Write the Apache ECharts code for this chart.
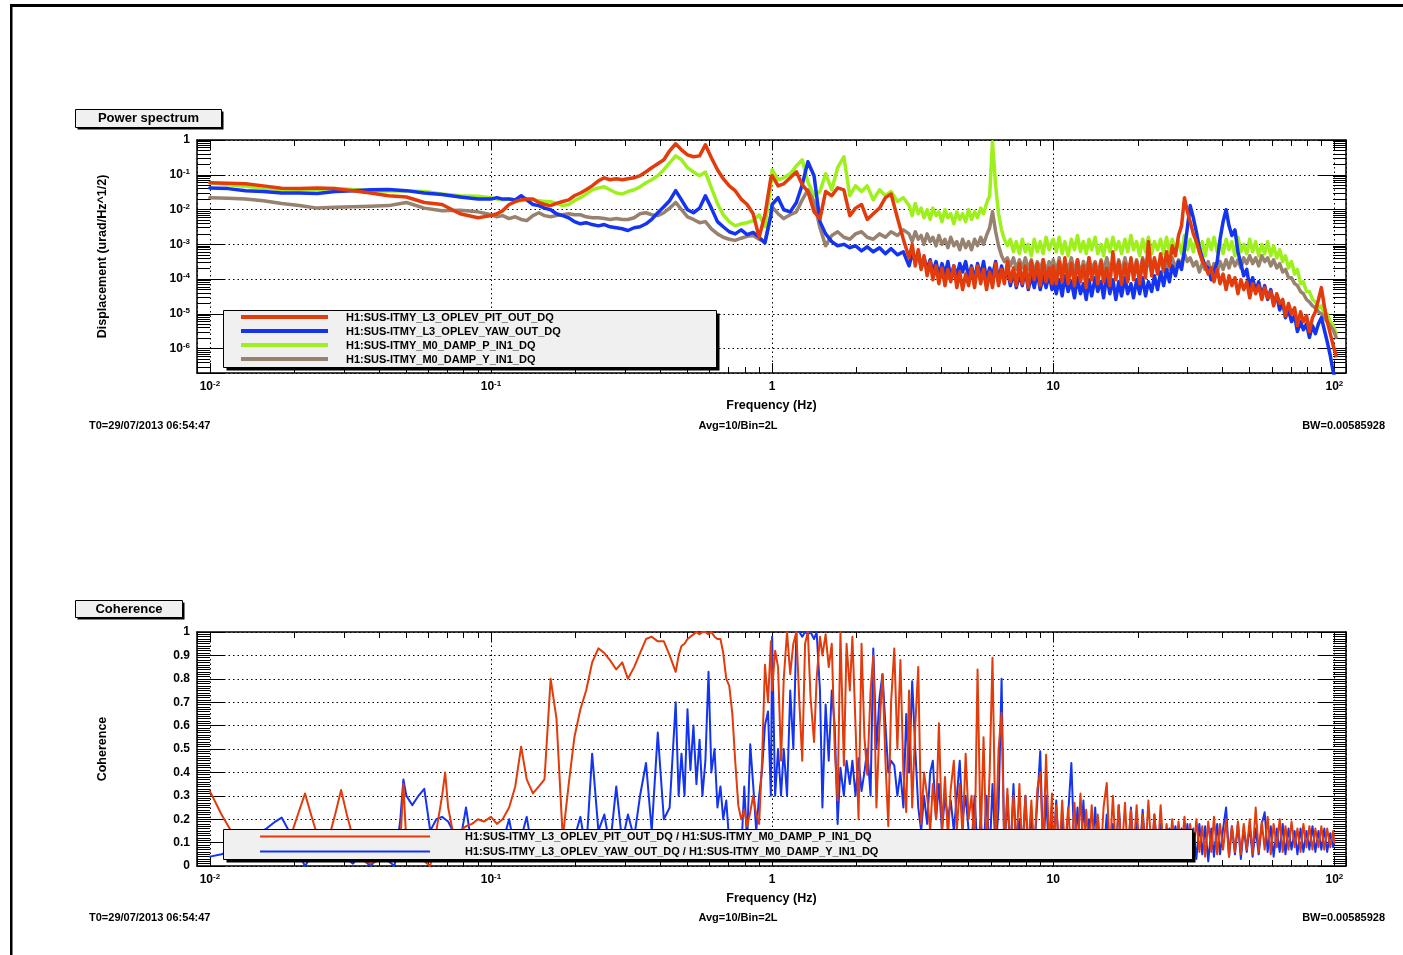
<!DOCTYPE html>
<html>
<head>
<meta charset="utf-8">
<script src="https://cdn.jsdelivr.net/npm/echarts@6/dist/echarts.min.js"></script>
<style>
  html, body { margin: 0; padding: 0; background: #fff; }
  #chart { width: 1403px; height: 955px; }
</style>
</head>
<body>
<div id="chart"></div>
<script>
const FONT = '"Liberation Sans", Arial, Helvetica, sans-serif';

// ---- Power spectrum: frequency grid (Hz) shared by the four channels ----
const psFreq = [
  0.01, 0.0116, 0.0134, 0.0155, 0.018, 0.0208, 0.0241, 0.0279, 0.0323, 0.0373, 0.0432, 0.05, 0.0579, 0.067, 0.0776, 0.0899,
  0.1, 0.105, 0.11, 0.116, 0.122, 0.128, 0.134, 0.141, 0.148, 0.155, 0.163, 0.171, 0.18, 0.189, 0.198, 0.208, 0.218, 0.229, 0.241, 0.253,
  0.265, 0.279, 0.293, 0.307, 0.323, 0.339, 0.356, 0.373, 0.392, 0.412, 0.432, 0.454, 0.476, 0.5, 0.525, 0.552, 0.579, 0.608, 0.639, 0.67,
  0.704, 0.739, 0.776, 0.815, 0.856, 0.899, 0.943, 0.99,
  1, 1.05, 1.1, 1.16, 1.22, 1.28, 1.34, 1.41, 1.48, 1.55, 1.63, 1.71, 1.8, 1.89, 1.98, 2.08, 2.18, 2.29, 2.41, 2.53, 2.65, 2.79, 2.93,
  3.07, 3.15, 3.23, 3.31, 3.39, 3.47, 3.56, 3.65, 3.73, 3.83, 3.92, 4.02, 4.12, 4.22, 4.32, 4.43, 4.54, 4.65, 4.76, 4.88,
  5, 5.12, 5.25, 5.38, 5.52, 5.65, 5.79, 5.94, 6.08, 6.24, 6.39, 6.55, 6.7, 6.87, 7.04, 7.22, 7.39, 7.58, 7.76, 7.96,
  8.15, 8.36, 8.56, 8.78, 8.99, 9.21, 9.43, 9.67, 9.9,
  10, 10.25, 10.5, 10.76, 11, 11.3, 11.6, 11.9, 12.2, 12.5, 12.8, 13.1, 13.4, 13.7, 14.1, 14.4, 14.8, 15.1, 15.5, 15.9,
  16.3, 16.7, 17.1, 17.5, 18, 18.4, 18.9, 19.3, 19.8, 20.3, 20.8, 21.3, 21.8, 22.4, 22.9, 23.5, 24.1, 24.7, 25.3, 25.9,
  26.5, 27.2, 27.9, 28.6, 29.3, 30, 30.7, 31.5, 32.3, 33.1, 33.9, 34.7, 35.6, 36.5, 37.3, 38.3, 39.2, 40.2, 41.2, 42.2,
  43.2, 44.3, 45.4, 46.5, 47.6, 48.8, 50, 51.2, 52.5, 53.8, 55.2, 56.5, 57.9, 59.4, 60.8, 62.4, 63.9, 65.5, 67, 68.7,
  70.4, 72.2, 73.9, 75.8, 77.6, 79.6, 81.5, 83.6, 85.6, 87.8, 89.9, 92.1, 94.3, 96.7, 99, 101.5
];

// Displacement spectral density (urad/Hz^1/2)
const psPitOut = [
  0.059, 0.057, 0.055, 0.048, 0.041, 0.040, 0.042, 0.040, 0.035, 0.030, 0.025, 0.023, 0.016, 0.014, 0.0076, 0.0058,
  0.0067, 0.0076, 0.0092, 0.014, 0.017, 0.019, 0.020, 0.020, 0.016, 0.014, 0.013, 0.015, 0.017, 0.019, 0.025, 0.030,
  0.037, 0.048, 0.067, 0.082, 0.072, 0.077, 0.072, 0.077, 0.082, 0.094, 0.122, 0.159, 0.207, 0.27, 0.49, 0.78,
  0.52, 0.375, 0.33, 0.35, 0.73, 0.31, 0.14, 0.077, 0.048, 0.035, 0.020, 0.014, 0.0076, 0.0016, 0.0071, 0.082,
  0.094, 0.048, 0.055, 0.082, 0.122, 0.052, 0.033, 0.0086, 0.0055, 0.033, 0.025, 0.042, 0.037, 0.0067, 0.011, 0.014,
  0.0052, 0.0076, 0.011, 0.022, 0.028, 0.0058, 0.0014,
  4.1e-4, 1.0e-3, 2.4e-4, 7.0e-4, 1.9e-4, 4.7e-4, 1.25e-4, 3.2e-4, 9.6e-5, 2.4e-4, 7.4e-5, 2.1e-4, 6.5e-5, 1.9e-4, 8.4e-5,
  2.4e-4, 5.7e-5, 1.6e-4, 5.0e-5, 1.4e-4, 6.5e-5, 2.1e-4, 5.7e-5, 2.4e-4, 7.4e-5, 1.9e-4, 5.0e-5, 1.6e-4, 5.7e-5, 2.8e-4,
  6.5e-5, 1.9e-4, 7.4e-5, 3.2e-4, 8.4e-5, 2.1e-4, 6.5e-5, 2.8e-4, 7.4e-5, 2.4e-4, 5.7e-5, 3.2e-4, 9.6e-5, 2.8e-4, 6.5e-5,
  3.6e-4, 8.4e-5, 2.1e-4, 7.4e-5,
  2.4e-4, 7.4e-5, 3.2e-4, 8.4e-5, 4.1e-4, 7.4e-5, 2.8e-4, 6.5e-5, 3.6e-4, 8.4e-5, 2.4e-4, 5.7e-5, 4.1e-4, 9.6e-5, 2.8e-4,
  7.4e-5, 3.2e-4, 8.4e-5, 2.1e-4, 6.5e-5, 6.1e-4, 9.6e-5, 3.2e-4, 7.4e-5, 2.8e-4, 8.4e-5, 4.1e-4, 9.6e-5, 3.2e-4, 7.4e-5,
  3.6e-4, 1.1e-4, 1.2e-3, 1.25e-4, 4.1e-4, 1.4e-4, 5.4e-4, 1.9e-4,
  6.1e-4, 2.4e-4, 9.1e-4, 4.7e-4, 1.8e-3, 3.4e-3, 0.022,
  0.0086, 0.0045, 0.0020, 0.0012, 6.1e-4, 3.2e-4, 2.4e-4, 1.4e-4, 2.1e-4, 8.4e-5, 1.9e-4, 7.4e-5, 1.4e-4, 5.0e-5, 1.25e-4,
  6.5e-5, 1.1e-4, 3.8e-5, 9.6e-5, 5.0e-5, 8.4e-5, 2.9e-5, 7.4e-5, 3.8e-5, 6.5e-5, 2.6e-5, 5.7e-5, 2.9e-5, 4.4e-5, 1.7e-5,
  3.8e-5, 2.0e-5, 2.6e-5, 8.9e-6, 2.0e-5, 1.0e-5, 1.5e-5, 4.6e-6, 1.15e-5, 6.0e-6, 8.9e-6, 3.1e-6, 7.8e-6, 1.15e-5, 2.6e-5,
  5.7e-5, 1.7e-5, 6.0e-6, 2.7e-6, 1.25e-6, 6.3e-7
];
const psYawOut = [
  0.042, 0.040, 0.035, 0.033, 0.030, 0.030, 0.029, 0.033, 0.035, 0.037, 0.038, 0.035, 0.030, 0.027, 0.023, 0.020,
  0.020, 0.022, 0.020, 0.020, 0.019, 0.025, 0.019, 0.014, 0.013, 0.011, 0.0099, 0.0076, 0.0067, 0.0058, 0.0045, 0.0039,
  0.0042, 0.0037, 0.0034, 0.0037, 0.0032, 0.0030, 0.0028, 0.0025, 0.0030, 0.0032, 0.0039, 0.0052, 0.0081, 0.012, 0.018, 0.035,
  0.019, 0.0099, 0.0081, 0.011, 0.025, 0.011, 0.0045, 0.0032, 0.0023, 0.0020, 0.0026, 0.0019, 0.0022, 0.0016, 0.0011, 0.0067,
  0.014, 0.022, 0.0099, 0.0086, 0.016, 0.052, 0.236, 0.094, 0.0045, 0.0020, 0.0012, 9.1e-4, 1.0e-3, 8.0e-4, 9.1e-4, 6.5e-4,
  8.5e-4, 6.1e-4, 8.0e-4, 5.4e-4, 7.5e-4, 5.0e-4, 6.1e-4,
  2.4e-4, 5.4e-4, 3.2e-4, 6.1e-4, 2.1e-4, 4.1e-4, 1.9e-4, 3.6e-4, 1.6e-4, 3.2e-4, 1.25e-4, 2.8e-4, 1.4e-4, 3.2e-4, 1.1e-4,
  2.4e-4, 1.25e-4, 2.8e-4, 1.6e-4, 3.2e-4, 1.1e-4, 2.4e-4, 9.6e-5, 2.8e-4, 1.25e-4, 3.2e-4, 9.6e-5, 2.1e-4, 1.25e-4, 3.2e-4,
  8.4e-5, 2.4e-4, 9.6e-5, 1.9e-4, 6.5e-5, 1.6e-4, 5.7e-5, 1.4e-4, 6.5e-5, 1.9e-4, 5.0e-5, 1.25e-4, 5.7e-5, 1.6e-4, 5.0e-5,
  1.25e-4, 5.7e-5, 1.4e-4, 5.0e-5,
  1.1e-4, 3.8e-5, 9.6e-5, 3.3e-5, 1.25e-4, 4.4e-5, 8.4e-5, 2.9e-5, 1.1e-4, 3.8e-5, 7.4e-5, 2.6e-5, 9.6e-5, 3.3e-5, 1.1e-4,
  4.4e-5, 8.4e-5, 2.9e-5, 1.25e-4, 3.8e-5, 9.6e-5, 2.6e-5, 8.4e-5, 3.3e-5, 1.1e-4, 3.8e-5, 7.4e-5, 2.9e-5, 9.6e-5, 3.8e-5,
  1.1e-4, 3.3e-5, 8.4e-5, 4.4e-5, 1.25e-4, 5.0e-5, 1.6e-4, 6.5e-5,
  1.9e-4, 8.4e-5, 2.4e-4, 1.25e-4, 3.2e-4, 1.9e-4, 7.0e-4, 3.0e-3, 0.013, 0.0058, 0.0023, 8.0e-4, 4.1e-4, 2.4e-4, 2.1e-4,
  9.6e-5, 1.6e-4, 3.2e-4, 0.0014, 0.0045, 0.0099, 0.0034, 0.0018, 0.0026, 6.1e-4, 2.8e-4, 1.25e-4, 1.9e-4, 5.7e-5, 1.1e-4,
  4.4e-5, 8.4e-5, 3.3e-5, 6.5e-5, 2.6e-5, 5.0e-5, 2.0e-5, 3.3e-5, 1.3e-5, 2.2e-5, 7.8e-6, 1.3e-5, 6.0e-6, 8.9e-6, 3.1e-6,
  6.0e-6, 3.5e-6, 5.2e-6, 2.1e-6, 4.6e-6, 2.7e-6, 5.2e-6, 7.8e-6, 3.5e-6, 1.6e-6, 6.3e-7, 2.2e-7, 1.0e-7
];
const psDampP = [
  0.059, 0.052, 0.047, 0.042, 0.037, 0.037, 0.038, 0.040, 0.038, 0.035, 0.034, 0.034, 0.033, 0.028, 0.025, 0.024,
  0.022, 0.020, 0.019, 0.020, 0.019, 0.018, 0.019, 0.019, 0.018, 0.017, 0.017, 0.015, 0.013, 0.014, 0.018, 0.022,
  0.028, 0.037, 0.042, 0.045, 0.037, 0.030, 0.028, 0.033, 0.037, 0.045, 0.059, 0.072, 0.094, 0.14, 0.22, 0.35,
  0.27, 0.16, 0.12, 0.094, 0.12, 0.042, 0.015, 0.0071, 0.0045, 0.0034, 0.0039, 0.0042, 0.0048, 0.0071, 0.0032, 0.052,
  0.14, 0.072, 0.082, 0.107, 0.18, 0.27, 0.063, 0.025, 0.033, 0.107, 0.037, 0.16, 0.33, 0.025, 0.048, 0.033,
  0.048, 0.019, 0.037, 0.025, 0.033, 0.017, 0.022,
  0.013, 0.0067, 0.015, 0.0076, 0.011, 0.0058, 0.0099, 0.0052, 0.011, 0.0067, 0.0086, 0.0045, 0.0099, 0.0058, 0.0076,
  0.0039, 0.0086, 0.0052, 0.0076, 0.0045, 0.0099, 0.0052, 0.0086, 0.0058, 0.011, 0.0076, 0.015, 0.025, 0.89, 0.048,
  0.0076, 0.0026, 0.0014, 9.1e-4, 0.0014, 6.1e-4, 0.0012, 5.4e-4, 0.0014, 6.1e-4, 1.0e-3, 4.7e-4, 0.0014, 6.1e-4, 0.0012,
  5.4e-4, 0.0016, 7.0e-4, 0.0012,
  0.0014, 6.1e-4, 0.0016, 5.4e-4, 0.0012, 4.7e-4, 0.0014, 7.0e-4, 0.0018, 6.1e-4,
  0.0012, 5.4e-4, 0.0014, 7.0e-4, 0.0016, 5.4e-4, 1.0e-3, 4.7e-4, 0.0014, 6.1e-4,
  0.0016, 7.0e-4, 0.0012, 5.4e-4, 0.0014, 6.1e-4, 0.0018, 7.0e-4, 0.0012, 4.7e-4,
  0.0014, 6.1e-4, 0.0016, 5.4e-4, 0.0012, 7.0e-4, 0.0014, 5.4e-4, 0.0016, 6.1e-4,
  0.0014, 7.0e-4, 0.0012, 5.4e-4, 0.0018, 7.0e-4, 0.0014, 6.1e-4, 0.0016, 5.4e-4,
  0.0012, 4.7e-4, 0.0014, 7.0e-4, 0.0016, 6.1e-4, 0.0012, 5.4e-4, 0.0014, 7.0e-4,
  0.0012, 4.7e-4, 0.0016, 6.1e-4, 1.0e-3, 5.4e-4, 0.0014, 6.1e-4, 0.0012, 4.7e-4,
  1.0e-3, 5.4e-4, 0.0012, 4.7e-4, 9.1e-4, 4.1e-4,
  7.0e-4, 3.2e-4, 4.7e-4, 2.1e-4, 3.2e-4, 1.4e-4, 1.9e-4, 7.4e-5, 8.4e-5, 4.4e-5,
  4.4e-5, 2.6e-5, 2.2e-5, 1.5e-5, 1.7e-5, 1.0e-5, 1.0e-5, 6.0e-6, 4.6e-6, 2.7e-6
];
const psDampY = [
  0.022, 0.021, 0.020, 0.018, 0.015, 0.013, 0.011, 0.0116, 0.012, 0.0125, 0.013, 0.016, 0.011, 0.0092, 0.0095, 0.0086,
  0.0071, 0.0062, 0.0067, 0.0055, 0.0062, 0.0052, 0.0048, 0.0067, 0.0081, 0.0067, 0.0062, 0.0067, 0.0071, 0.0076, 0.0071, 0.0071,
  0.0062, 0.0058, 0.0058, 0.0055, 0.0052, 0.0055, 0.0052, 0.0052, 0.0058, 0.0076, 0.0081, 0.0071, 0.0067, 0.0081, 0.011, 0.016,
  0.0099, 0.0062, 0.0052, 0.0042, 0.0045, 0.0028, 0.0020, 0.0016, 0.0014, 0.0013, 0.0015, 0.0017, 0.0018, 0.0014, 0.0012, 0.0071,
  0.012, 0.0076, 0.0055, 0.0071, 0.0086, 0.019, 0.037, 0.017, 0.0030, 9.1e-4, 0.0018, 0.0023, 0.0016, 0.0014, 0.0020, 0.0023,
  0.0016, 0.0014, 0.0020, 0.0016, 0.0023, 0.0018, 0.0026,
  0.0020, 0.0012, 0.0023, 0.0014, 0.0018, 1.0e-3, 0.0020, 0.0012, 0.0016, 9.1e-4, 0.0018, 1.0e-3, 0.0014, 8.0e-4, 0.0016,
  9.1e-4, 0.0012, 7.0e-4, 0.0014, 8.0e-4, 0.0012, 7.0e-4, 0.0014, 9.1e-4, 0.0016, 1.0e-3, 0.0018, 0.0030, 0.0086, 0.0023,
  9.1e-4, 4.7e-4, 3.2e-4, 4.1e-4, 2.4e-4, 4.1e-4, 1.9e-4, 3.6e-4, 2.1e-4, 4.1e-4, 1.9e-4, 3.6e-4, 1.6e-4, 3.2e-4, 1.9e-4,
  3.6e-4, 1.6e-4, 3.2e-4, 1.9e-4,
  3.6e-4, 1.6e-4, 4.1e-4, 1.4e-4, 3.2e-4, 1.9e-4, 4.1e-4, 1.6e-4, 3.6e-4, 1.4e-4,
  3.2e-4, 1.6e-4, 4.1e-4, 1.9e-4, 3.2e-4, 1.4e-4, 3.6e-4, 1.6e-4, 4.1e-4, 1.9e-4,
  3.2e-4, 1.4e-4, 3.6e-4, 1.6e-4, 4.1e-4, 1.9e-4, 3.2e-4, 1.6e-4, 3.6e-4, 1.4e-4,
  4.1e-4, 1.9e-4, 3.2e-4, 1.6e-4, 3.6e-4, 1.9e-4, 4.1e-4, 1.6e-4, 3.2e-4, 1.9e-4,
  4.1e-4, 2.1e-4, 3.6e-4, 2.8e-4, 5.4e-4, 3.2e-4, 4.1e-4, 2.4e-4, 3.2e-4, 1.6e-4,
  2.8e-4, 1.9e-4, 3.2e-4, 1.4e-4, 2.8e-4, 1.6e-4, 3.2e-4, 1.9e-4, 3.6e-4, 2.1e-4,
  4.1e-4, 2.4e-4, 3.6e-4, 2.1e-4, 4.1e-4, 2.8e-4, 4.7e-4, 2.8e-4, 4.1e-4, 2.4e-4,
  4.7e-4, 3.2e-4, 4.1e-4, 2.4e-4, 3.6e-4, 2.1e-4,
  2.8e-4, 1.6e-4, 1.9e-4, 1.1e-4, 1.1e-4, 7.4e-5, 6.5e-5, 4.4e-5, 3.8e-5, 2.6e-5,
  2.2e-5, 1.7e-5, 1.5e-5, 1.15e-5, 1.0e-5, 7.8e-6, 6.0e-6, 4.6e-6, 3.5e-6, 2.1e-6
];

// ---- Coherence: frequency grid (Hz) shared by both channel pairs ----
const cohFreq = [
  0.01, 0.011, 0.0119, 0.0128, 0.0137, 0.0148, 0.0159, 0.0171, 0.018, 0.0193, 0.0203, 0.0218, 0.0229, 0.0241, 0.0253,
  0.0265, 0.0279, 0.0293, 0.0307, 0.0323, 0.0339, 0.0356, 0.0373, 0.0392, 0.0412, 0.0432, 0.0454, 0.0476, 0.0488, 0.05,
  0.0525, 0.0552, 0.0579, 0.0608, 0.0639, 0.067, 0.0687, 0.0704, 0.0739, 0.0776, 0.0815, 0.0856, 0.0899, 0.0943,
  0.1, 0.105, 0.11, 0.116, 0.122, 0.128, 0.134, 0.141, 0.148, 0.155, 0.163, 0.171, 0.18, 0.189, 0.198, 0.208,
  0.218, 0.229, 0.241, 0.253, 0.265, 0.279, 0.293, 0.307, 0.323, 0.339, 0.356, 0.373, 0.392, 0.412, 0.432,
  0.454, 0.465, 0.476, 0.488, 0.5, 0.512, 0.525, 0.538, 0.552, 0.565, 0.579, 0.594, 0.608, 0.624, 0.639, 0.655,
  0.67, 0.687, 0.704, 0.722, 0.739, 0.758, 0.776, 0.796, 0.815, 0.836, 0.856, 0.878, 0.899, 0.921, 0.943, 0.967, 0.99,
  1, 1.025, 1.05, 1.076, 1.1, 1.13, 1.16, 1.19, 1.22, 1.25, 1.28, 1.31, 1.34, 1.37, 1.41, 1.44, 1.48, 1.51, 1.55, 1.59,
  1.63, 1.67, 1.71, 1.75, 1.8, 1.84, 1.89, 1.93, 1.98, 2.03, 2.08, 2.13, 2.18, 2.24, 2.29, 2.35, 2.41, 2.47, 2.53, 2.59,
  2.65, 2.72, 2.79, 2.86, 2.93, 3, 3.07, 3.15, 3.23, 3.31, 3.39, 3.47, 3.56, 3.65, 3.73, 3.83, 3.92, 4.02, 4.12, 4.22,
  4.32, 4.43, 4.54, 4.65, 4.76, 4.88, 5,
  5.12, 5.25, 5.38, 5.52, 5.65, 5.79, 5.94, 6.08, 6.24, 6.39, 6.55, 6.7, 6.87, 7.04, 7.22, 7.39, 7.58, 7.76, 7.96, 8.15,
  8.36, 8.56, 8.78, 8.99, 9.21, 9.43, 9.67, 9.9,
  10, 10.25, 10.5, 10.76, 11, 11.3, 11.6, 11.9, 12.2, 12.5, 12.8, 13.1, 13.4, 13.7, 14.1, 14.4, 14.8, 15.1, 15.5, 15.9,
  16.3, 16.7, 17.1, 17.5, 18, 18.4, 18.9, 19.3, 19.8, 20.3, 20.8, 21.3, 21.8, 22.4, 22.9, 23.5, 24.1, 24.7,
  25.3, 25.9, 26.5, 27.2, 27.9, 28.6, 29.3, 30, 30.7, 31.5, 32.3, 33.1, 33.9, 34.7, 35.6, 36.5, 37.3, 38.3, 39.2, 40.2,
  41.2, 42.2, 43.2, 44.3, 45.4, 46.5, 47.6, 48.8, 50, 51.2, 52.5, 53.8, 55.2, 56.5, 57.9, 59.4, 60.8, 62.4, 63.9, 65.5,
  67, 68.7, 70.4, 72.2, 73.9, 75.8, 77.6, 79.6, 81.5, 83.6, 85.6, 87.8, 89.9, 92.1, 94.3, 96.7, 99, 100
];
const cohPit = [
  0.32, 0.22, 0.15, 0.1, 0.07, 0.05, 0.04, 0.03, 0.02, 0.12, 0.2, 0.31, 0.22, 0.13, 0.06,
  0.12, 0.22, 0.325, 0.22, 0.12, 0.05, 0.02, 0.01, 0.02, 0.04, 0.06, 0.08, 0.1, 0.35, 0.1,
  0.07, 0.04, 0.02, 0.0, 0.15, 0.3, 0.4, 0.25, 0.12, 0.15, 0.17, 0.18, 0.2, 0.19,
  0.21, 0.18, 0.2, 0.25, 0.34, 0.51, 0.37, 0.31, 0.34, 0.37, 0.8, 0.63, 0.12, 0.35, 0.55, 0.67,
  0.75, 0.87, 0.93, 0.91, 0.88, 0.84, 0.87, 0.8, 0.85, 0.91, 0.97, 0.98, 0.96, 0.96, 0.9,
  0.83, 0.9, 0.94, 0.95, 0.97, 0.98, 0.99, 1.0, 0.99, 1.0, 1.0, 0.99, 1.0, 0.98, 0.97, 0.97,
  0.91, 0.8, 0.77, 0.65, 0.45, 0.26, 0.2, 0.24, 0.17, 0.23, 0.3, 0.22, 0.18, 0.45, 0.86, 0.7, 0.96,
  0.75, 0.92, 0.85, 0.45, 0.8, 1.0, 0.82, 0.95, 1.0, 0.7, 0.45, 0.95, 1.0, 0.72, 0.53, 0.8, 0.98, 0.9, 0.99, 0.85,
  0.95, 0.5, 0.28, 1.0, 0.43, 0.95, 0.75, 0.98, 0.6, 0.2, 0.95, 0.55, 0.39, 0.75, 0.9, 0.25, 0.6, 0.82, 0.45, 0.17,
  0.7, 0.93, 0.5, 0.88, 0.4, 0.23, 0.75, 0.25, 0.6, 0.85, 0.18, 0.4, 0.3, 0.15, 0.35, 0.2, 0.61, 0.15, 0.38, 0.12,
  0.33, 0.45, 0.15, 0.35, 0.12, 0.48, 0.2,
  0.3, 0.06, 0.84, 0.1, 0.55, 0.05, 0.4, 0.89, 0.08, 0.5, 0.655, 0.06, 0.33, 0.05, 0.3, 0.08, 0.35, 0.04, 0.3, 0.07,
  0.28, 0.05, 0.33, 0.4, 0.06, 0.475, 0.08, 0.31,
  0.05, 0.26, 0.04, 0.28, 0.06, 0.25, 0.05, 0.27, 0.04, 0.31, 0.06, 0.24, 0.05, 0.26, 0.04, 0.22, 0.06, 0.25, 0.355, 0.05,
  0.3, 0.06, 0.26, 0.04, 0.27, 0.05, 0.24, 0.06, 0.26, 0.04, 0.22, 0.06, 0.28, 0.05, 0.22, 0.04, 0.26, 0.06,
  0.18, 0.06, 0.2, 0.05, 0.19, 0.07, 0.21, 0.05, 0.18, 0.04, 0.2, 0.06, 0.17, 0.04, 0.19, 0.06, 0.21, 0.05, 0.18, 0.07,
  0.2, 0.04, 0.17, 0.06, 0.19, 0.05, 0.18, 0.07, 0.2, 0.05, 0.25, 0.06, 0.19, 0.07, 0.21, 0.05, 0.18, 0.08, 0.2, 0.06,
  0.17, 0.07, 0.19, 0.08, 0.16, 0.06, 0.18, 0.08, 0.17, 0.07, 0.16, 0.08, 0.17, 0.07, 0.16, 0.08, 0.15, 0.1
];
const cohYaw = [
  0.04, 0.05, 0.065, 0.09, 0.12, 0.14, 0.16, 0.19, 0.207, 0.14, 0.07, 0.0, 0.04, 0.08, 0.1,
  0.06, 0.03, 0.05, 0.03, 0.01, 0.04, 0.02, 0.0, 0.03, 0.05, 0.02, 0.0, 0.2, 0.37, 0.3,
  0.26, 0.3, 0.33, 0.15, 0.2, 0.21, 0.2, 0.19, 0.14, 0.1, 0.25, 0.08, 0.05, 0.1,
  0.12, 0.05, 0.1, 0.2, 0.06, 0.12, 0.21, 0.05, 0.1, 0.03, 0.08, 0.04, 0.1, 0.05, 0.12, 0.21,
  0.06, 0.48, 0.15, 0.22, 0.08, 0.34, 0.1, 0.22, 0.12, 0.3, 0.44, 0.15, 0.57, 0.2, 0.25,
  0.7, 0.3, 0.48, 0.3, 0.67, 0.41, 0.6, 0.35, 0.54, 0.3, 0.45, 0.83, 0.4, 0.5, 0.25, 0.34,
  0.2, 0.28, 0.1, 0.05, 0.02, 0.03, 0.05, 0.34, 0.1, 0.52, 0.35, 0.15, 0.3, 0.41, 0.6, 0.66, 0.3,
  0.98, 0.3, 0.5, 0.3, 0.5, 0.3, 0.75, 0.5, 1.0, 1.0, 0.98, 1.0, 0.99, 1.0, 0.97, 1.0, 0.75, 0.25, 0.69, 0.45,
  0.75, 0.6, 0.18, 0.42, 0.3, 0.45, 0.35, 0.45, 0.3, 0.46, 0.32, 0.4, 0.5, 0.3, 0.93, 0.5, 0.72, 0.82, 0.6, 0.4,
  0.45, 0.43, 0.3, 0.4, 0.25, 0.65, 0.4, 0.79, 0.5, 0.25, 0.15, 0.3, 0.18, 0.4, 0.45, 0.2, 0.35, 0.15, 0.3, 0.2,
  0.28, 0.15, 0.3, 0.45, 0.2, 0.3, 0.15,
  0.08, 0.3, 0.05, 0.2, 0.06, 0.3, 0.04, 0.35, 0.06, 0.25, 0.8, 0.05, 0.3, 0.04, 0.35, 0.06, 0.2, 0.05, 0.3, 0.04,
  0.22, 0.06, 0.28, 0.49, 0.05, 0.3, 0.04, 0.2,
  0.06, 0.28, 0.04, 0.2, 0.05, 0.22, 0.44, 0.06, 0.25, 0.04, 0.28, 0.05, 0.2, 0.04, 0.25, 0.06, 0.15, 0.03, 0.22, 0.05,
  0.18, 0.04, 0.26, 0.06, 0.15, 0.03, 0.25, 0.05, 0.2, 0.04, 0.24, 0.06, 0.15, 0.03, 0.22, 0.05, 0.18, 0.04,
  0.1, 0.16, 0.04, 0.17, 0.05, 0.16, 0.03, 0.18, 0.05, 0.16, 0.03, 0.18, 0.05, 0.17, 0.02, 0.16, 0.04, 0.18, 0.05, 0.16,
  0.25, 0.04, 0.17, 0.05, 0.18, 0.03, 0.16, 0.06, 0.17, 0.04, 0.16, 0.05, 0.18, 0.23, 0.06, 0.17, 0.04, 0.16, 0.06, 0.18,
  0.05, 0.16, 0.07, 0.15, 0.05, 0.16, 0.06, 0.15, 0.07, 0.17, 0.06, 0.15, 0.07, 0.16, 0.06, 0.14, 0.08, 0.1
];

// ---- Axis tick labels ----
const freqTicks = [0.01, 0.1, 1, 10, 100];
const freqTickText = ['10^-2', '10^-1', '1', '10', '10^2'];
const dispTicks = [1, 0.1, 0.01, 1e-3, 1e-4, 1e-5, 1e-6];
const dispTickText = ['1', '10^-1', '10^-2', '10^-3', '10^-4', '10^-5', '10^-6'];

// ---- Channel names ----
const psNames = [
  'H1:SUS-ITMY_L3_OPLEV_PIT_OUT_DQ',
  'H1:SUS-ITMY_L3_OPLEV_YAW_OUT_DQ',
  'H1:SUS-ITMY_M0_DAMP_P_IN1_DQ',
  'H1:SUS-ITMY_M0_DAMP_Y_IN1_DQ'
];
const cohNames = [
  'H1:SUS-ITMY_L3_OPLEV_PIT_OUT_DQ / H1:SUS-ITMY_M0_DAMP_P_IN1_DQ',
  'H1:SUS-ITMY_L3_OPLEV_YAW_OUT_DQ / H1:SUS-ITMY_M0_DAMP_Y_IN1_DQ'
];
const infoLeft = 'T0=29/07/2013 06:54:47';
const infoMid = 'Avg=10/Bin=2L';
const infoRight = 'BW=0.00585928';

const C_RED = '#e23b0c', C_BLUE = '#1434f0', C_GREEN = '#9ef01c', C_BROWN = '#97816f';

// ---- Axis ranges ----
const X_MIN = 0.009, X_MAX = 110;
const Y_MIN = 2e-7, Y_MAX = 1;

const dotted = { color: '#000', width: 1, type: [1.5, 3] };
const rich = {
  b: { fontFamily: FONT, fontWeight: 'bold', fontSize: 12, lineHeight: 14, color: '#000' },
  s: { fontFamily: FONT, fontWeight: 'bold', fontSize: 8, lineHeight: 8, verticalAlign: 'top', color: '#000' }
};
const nameStyle = { fontFamily: FONT, fontWeight: 'bold', fontSize: 12.5, color: '#000' };

// label text for decade ticks, superscripting the exponent
function powLabel(ticks, texts) {
  return function (v) {
    const lv = Math.log10(v);
    for (let i = 0; i < ticks.length; i++) {
      if (Math.abs(lv - Math.log10(ticks[i])) < 1e-6) {
        const t = texts[i];
        const k = t.indexOf('^');
        return k < 0 ? '{b|' + t + '}' : '{b|' + t.slice(0, k) + '}{s|' + t.slice(k + 1) + '}';
      }
    }
    return '';
  };
}

// positions (in log10 units) of the 2..9 sub-decade ticks
function minorLogs(lo, hi) {
  const out = [];
  for (let e = Math.floor(Math.log10(lo)); e <= Math.ceil(Math.log10(hi)); e++) {
    for (let d = 2; d <= 9; d++) {
      const v = d * Math.pow(10, e);
      if (v > lo * 1.0001 && v < hi * 0.9999) out.push(Math.log10(v));
    }
  }
  return out;
}

function logX(grid, pos, main) {
  return {
    type: 'log', logBase: 10, gridIndex: grid, position: pos, min: X_MIN, max: X_MAX,
    axisLine: { show: true, onZero: false, lineStyle: { color: '#000', width: 1.5 } },
    axisTick: { show: true, inside: true, length: 10, lineStyle: { color: '#000', width: 1 } },
    axisLabel: main ? { show: true, margin: 7, formatter: powLabel(freqTicks, freqTickText), rich: rich } : { show: false },
    splitLine: { show: !!main, lineStyle: dotted },
    name: main ? 'Frequency (Hz)' : '',
    nameLocation: 'middle', nameGap: 26, nameTextStyle: nameStyle
  };
}
function minorX(grid, pos) {
  return {
    type: 'value', gridIndex: grid, position: pos,
    min: Math.log10(X_MIN), max: Math.log10(X_MAX),
    axisLine: { show: false, onZero: false },
    axisTick: { show: true, inside: true, length: 6, customValues: minorLogs(X_MIN, X_MAX), lineStyle: { color: '#000', width: 1 } },
    axisLabel: { show: false }, splitLine: { show: false }
  };
}
function logY(pos, main) {
  return {
    type: 'log', logBase: 10, gridIndex: 0, position: pos, min: Y_MIN, max: Y_MAX,
    axisLine: { show: true, onZero: false, lineStyle: { color: '#000', width: 1.5 } },
    axisTick: { show: true, inside: true, length: 28, lineStyle: { color: '#000', width: 1 } },
    axisLabel: main ? { show: true, margin: 7, formatter: powLabel(dispTicks, dispTickText), rich: rich } : { show: false },
    splitLine: { show: !!main, lineStyle: dotted },
    name: main ? 'Displacement (urad/Hz^1/2)' : '',
    nameLocation: 'middle', nameGap: 88, nameTextStyle: nameStyle
  };
}
function minorY(pos) {
  return {
    type: 'value', gridIndex: 0, position: pos,
    min: Math.log10(Y_MIN), max: Math.log10(Y_MAX),
    axisLine: { show: false, onZero: false },
    axisTick: { show: true, inside: true, length: 13, customValues: minorLogs(Y_MIN, Y_MAX), lineStyle: { color: '#000', width: 1 } },
    axisLabel: { show: false }, splitLine: { show: false }
  };
}
function cohY(pos, main) {
  return {
    type: 'value', gridIndex: 1, position: pos, min: 0, max: 1, interval: 0.1,
    axisLine: { show: true, onZero: false, lineStyle: { color: '#000', width: 1.5 } },
    axisTick: { show: true, inside: true, length: 28, lineStyle: { color: '#000', width: 1 } },
    minorTick: { show: true, splitNumber: 10, length: 13, lineStyle: { color: '#000', width: 1 } },
    axisLabel: main ? { show: true, margin: 7, fontFamily: FONT, fontWeight: 'bold', fontSize: 12, color: '#000' } : { show: false },
    splitLine: { show: !!main, lineStyle: dotted },
    name: main ? 'Coherence' : '',
    nameLocation: 'middle', nameGap: 88, nameTextStyle: nameStyle
  };
}

function trace(name, freq, vals, color, width, xi, yi) {
  return {
    type: 'line', name: name, xAxisIndex: xi, yAxisIndex: yi,
    data: freq.map(function (f, i) { return [f, vals[i]]; }),
    symbol: 'none', showSymbol: false, silent: true, clip: true,
    lineStyle: { color: color, width: width, join: 'round', cap: 'round' },
    itemStyle: { color: color }
  };
}

// ---- Decorations: title boxes, legends, info lines ----
function boxWithShadow(x, y, w, h, sh) {
  return [
    { type: 'rect', z: 100, shape: { x: x + sh, y: y + sh, width: w, height: h }, style: { fill: '#000' } },
    { type: 'rect', z: 101, shape: { x: x, y: y, width: w, height: h }, style: { fill: '#f0f0f0', stroke: '#000', lineWidth: 1 } }
  ];
}
function txt(x, y, s, size, align) {
  return {
    type: 'text', z: 103, x: x, y: y,
    style: { text: s, fill: '#000', font: 'bold ' + size + 'px ' + FONT, align: align || 'left', verticalAlign: 'middle' }
  };
}
function swatch(x1, x2, y, color, w) {
  return { type: 'line', z: 102, shape: { x1: x1, y1: y, x2: x2, y2: y }, style: { stroke: color, lineWidth: w } };
}

const graphics = [
  // outer page frame
  { type: 'rect', z: 100, shape: { x: 10, y: 4, width: 1400, height: 3 }, style: { fill: '#000' } },
  { type: 'rect', z: 100, shape: { x: 10, y: 4, width: 2.5, height: 960 }, style: { fill: '#000' } }
]
  .concat(boxWithShadow(75.5, 109.5, 146, 18, 2))
  .concat([txt(148.5, 118.5, 'Power spectrum', 13, 'center')])
  .concat(boxWithShadow(75.5, 600.5, 107, 17, 2))
  .concat([txt(129, 609, 'Coherence', 13, 'center')])
  .concat(boxWithShadow(223.5, 310.5, 493, 57, 3))
  .concat([
    swatch(241, 328, 317, C_RED, 4), txt(346, 317.5, psNames[0], 11),
    swatch(241, 328, 331, C_BLUE, 4), txt(346, 331.5, psNames[1], 11),
    swatch(241, 328, 345, C_GREEN, 4), txt(346, 345.5, psNames[2], 11),
    swatch(241, 328, 359, C_BROWN, 4), txt(346, 359.5, psNames[3], 11)
  ])
  .concat(boxWithShadow(223.5, 829.5, 969, 30, 3))
  .concat([
    swatch(260, 430, 836.5, C_RED, 2), txt(465, 836.5, cohNames[0], 11),
    swatch(260, 430, 851.5, C_BLUE, 2), txt(465, 851.5, cohNames[1], 11)
  ])
  .concat([
    txt(89, 426, infoLeft, 11), txt(738, 426, infoMid, 11, 'center'), txt(1385, 426, infoRight, 11, 'right'),
    txt(89, 918, infoLeft, 11), txt(738, 918, infoMid, 11, 'center'), txt(1385, 918, infoRight, 11, 'right')
  ]);

const chart = echarts.init(document.getElementById('chart'), null, { renderer: 'canvas' });
chart.setOption({
  backgroundColor: '#fff',
  animation: false,
  grid: [
    { left: 197, top: 140, width: 1149, height: 233, containLabel: false },
    { left: 197, top: 632, width: 1149, height: 234, containLabel: false }
  ],
  xAxis: [
    logX(0, 'bottom', true), logX(0, 'top', false), minorX(0, 'bottom'), minorX(0, 'top'),
    logX(1, 'bottom', true), logX(1, 'top', false), minorX(1, 'bottom'), minorX(1, 'top')
  ],
  yAxis: [
    logY('left', true), logY('right', false), minorY('left'), minorY('right'),
    cohY('left', true), cohY('right', false)
  ],
  series: [
    trace(psNames[2], psFreq, psDampP, C_GREEN, 3.5, 0, 0),
    trace(psNames[3], psFreq, psDampY, C_BROWN, 3.5, 0, 0),
    trace(psNames[1], psFreq, psYawOut, C_BLUE, 3.5, 0, 0),
    trace(psNames[0], psFreq, psPitOut, C_RED, 3.5, 0, 0),
    trace(cohNames[1], cohFreq, cohYaw, C_BLUE, 2, 4, 4),
    trace(cohNames[0], cohFreq, cohPit, C_RED, 2, 4, 4)
  ],
  graphic: graphics
});
</script>
</body>
</html>
